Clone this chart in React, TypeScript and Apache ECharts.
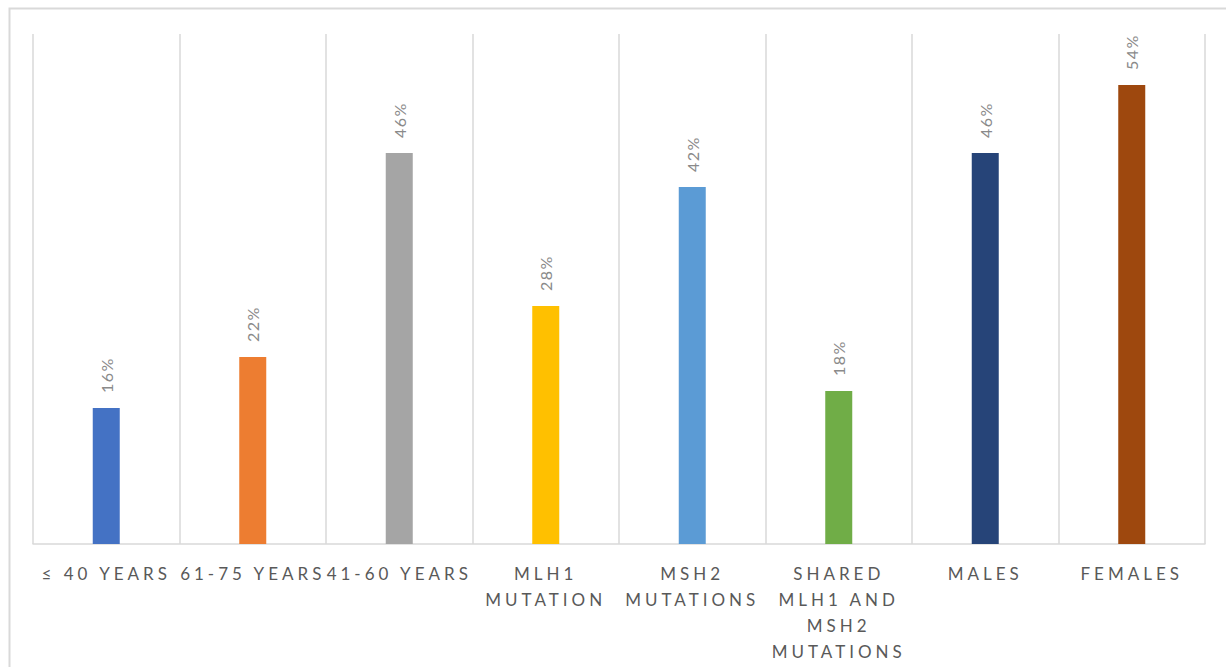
import React, { useEffect, useRef } from "react";
import * as echarts from "echarts";

const categories: string[] = [
  "≤ 40 YEARS",
  "61-75 YEARS",
  "41-60 YEARS",
  "MLH1\nMUTATION",
  "MSH2\nMUTATIONS",
  "SHARED\nMLH1 AND\nMSH2\nMUTATIONS",
  "MALES",
  "FEMALES",
];
const values: number[] = [16, 22, 46, 28, 42, 18, 46, 54];
const barColors: string[] = [
  "#4472C4",
  "#ED7D31",
  "#A5A5A5",
  "#FFC000",
  "#5B9BD5",
  "#70AD47",
  "#264478",
  "#9E480E",
];

export default function App() {
  const ref = useRef<HTMLDivElement>(null);
  useEffect(() => {
    if (!ref.current) return;
    const chart = echarts.init(ref.current, undefined, { renderer: "svg" });
    const font = "Lato, 'DejaVu Sans', sans-serif";
    chart.setOption({
      animation: false,
      backgroundColor: "#ffffff",
      graphic: [
        {
          type: "rect",
          left: 7,
          top: 6,
          shape: { width: 1300, height: 800 },
          style: { fill: "none", stroke: "#d9d9d9", lineWidth: 2 },
          silent: true,
        },
      ],
      grid: { left: 33, right: 21, top: 34, bottom: 123, containLabel: false },
      xAxis: {
        type: "category",
        data: categories,
        boundaryGap: true,
        axisLine: { show: true, lineStyle: { color: "#d9d9d9", width: 1.5 } },
        axisTick: { show: false },
        splitLine: { show: true, lineStyle: { color: "#d9d9d9", width: 1.5 } },
        axisLabel: {
          interval: 0,
          color: "#595959",
          fontFamily: font,
          fontSize: 17,
          lineHeight: 26,
          margin: 16,
        },
      },
      yAxis: {
        type: "value",
        min: 0,
        max: 60,
        show: false,
        splitLine: { show: false },
      },
      series: [
        {
          type: "bar",
          barWidth: 27,
          data: values.map((v, i) => ({ value: v, itemStyle: { color: barColors[i] } })),
          label: {
            show: true,
            position: "top",
            rotate: 90,
            align: "left",
            verticalAlign: "middle",
            distance: 15,
            formatter: (p: any) => p.value + "%",
            color: "#8a8a8a",
            fontFamily: font,
            fontSize: 16,
          },
        },
      ],
    });
    const applySpacing = () => {
      if (!ref.current) return;
      const texts = ref.current.querySelectorAll("text");
      texts.forEach((t) => {
        const s = t.textContent || "";
        if (s.endsWith("%")) t.setAttribute("letter-spacing", "1.5");
        else t.setAttribute("letter-spacing", "4");
      });
    };
    chart.on("finished", applySpacing);
    applySpacing();
    const tm = setTimeout(applySpacing, 50);
    return () => {
      clearTimeout(tm);
      chart.dispose();
    };
  }, []);
  return (
    <div
      ref={ref}
      style={{ position: "fixed", left: 0, top: 0, width: 1226, height: 667 }}
    />
  );
}
